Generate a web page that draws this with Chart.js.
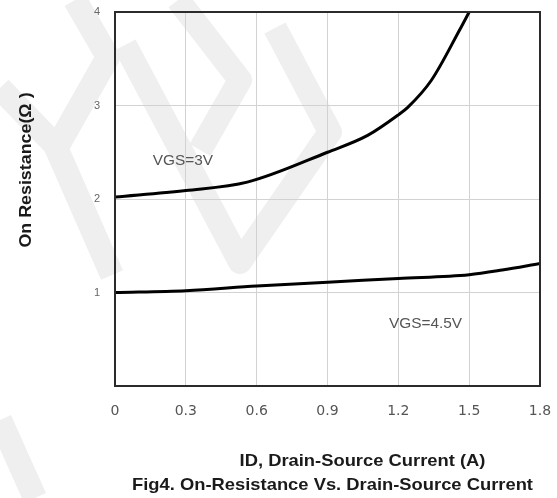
<!DOCTYPE html>
<html>
<head>
<meta charset="utf-8">
<script src="https://cdn.jsdelivr.net/npm/chart.js@4"></script>
<style>
  html, body { margin: 0; padding: 0; background: #fff; }
  #wrap { width: 557px; height: 498px; }
</style>
</head>
<body>
<div id="wrap"><canvas id="rdsChart"></canvas></div>
<script>
// drain current (A) vs on-resistance (ohm)
const idVgs3 = [0, 0.3, 0.56, 0.9, 1.07, 1.2, 1.24, 1.34, 1.46, 1.5];
const rdsVgs3 = [2.02, 2.09, 2.18, 2.5, 2.68, 2.9, 2.98, 3.27, 3.81, 4.0];
const idVgs45 = [0, 0.3, 0.6, 0.9, 1.2, 1.5, 1.64, 1.8];
const rdsVgs45 = [1.0, 1.02, 1.07, 1.11, 1.15, 1.19, 1.24, 1.31];
const xTicks = [0, 0.3, 0.6, 0.9, 1.2, 1.5, 1.8];
const yTicks = [0, 1, 2, 3, 4];

const seriesLabels = [
  { text: 'VGS=3V', x: 0.16, y: 2.4 },
  { text: 'VGS=4.5V', x: 1.16, y: 0.66 }
];

const toPts = (xs, ys) => xs.map((x, i) => ({ x: x, y: ys[i] }));
const FONT = '"Liberation Sans", Arial, sans-serif';

// faint logo behind the plot
const watermark = {
  id: 'watermark',
  beforeDraw(chart) {
    const ctx = chart.ctx;
    ctx.save();
    ctx.strokeStyle = '#efefef';
    ctx.lineWidth = 24;
    ctx.lineJoin = 'round';
    const bands = [
      [[0, 88], [55, 145], [112, 275]],
      [[75, 0], [108, 57], [57, 147]],
      [[125, 45], [240, 262], [330, 132], [275, 28]],
      [[178, 0], [240, 80], [200, 150]],
      [[0, 420], [35, 498]]
    ];
    bands.forEach(b => {
      ctx.beginPath();
      b.forEach((p, i) => i ? ctx.lineTo(p[0], p[1]) : ctx.moveTo(p[0], p[1]));
      ctx.stroke();
    });
    ctx.restore();
  }
};

// stretched text, the printed fonts run wide
function wideText(ctx, text, x, y, sx) {
  ctx.save();
  ctx.translate(x, y);
  ctx.scale(sx, 1);
  ctx.fillText(text, 0, 0);
  ctx.restore();
}

// border, curve labels, axis captions
const annotations = {
  id: 'annotations',
  afterDraw(chart) {
    const ctx = chart.ctx;
    const a = chart.chartArea;
    const xs = chart.scales.x, ys = chart.scales.y;
    ctx.save();
    ctx.strokeStyle = '#2b2b2b';
    ctx.lineWidth = 2;
    ctx.strokeRect(a.left, a.top, a.right - a.left, a.bottom - a.top);

    ctx.fillStyle = '#555';
    ctx.font = '14px ' + FONT;
    ctx.textBaseline = 'middle';
    ctx.textAlign = 'left';
    seriesLabels.forEach(l => wideText(ctx, l.text, xs.getPixelForValue(l.x), ys.getPixelForValue(l.y), 1.1));

    ctx.fillStyle = '#1a1a1a';
    ctx.font = 'bold 17px ' + FONT;
    ctx.textAlign = 'center';
    const mid = (a.left + a.right) / 2;
    wideText(ctx, 'ID, Drain-Source Current (A)', mid + 35, a.bottom + 75, 1.08);
    wideText(ctx, 'Fig4. On-Resistance Vs. Drain-Source Current', mid + 5, a.bottom + 99, 1.08);

    ctx.translate(26, (a.top + a.bottom) / 2 - 29);
    ctx.rotate(-Math.PI / 2);
    wideText(ctx, 'On Resistance(Ω )', 0, 0, 1.05);
    ctx.restore();
  }
};

const lineStyle = {
  borderColor: '#000',
  borderWidth: 3,
  pointRadius: 0,
  cubicInterpolationMode: 'monotone',
  fill: false
};

new Chart(document.getElementById('rdsChart'), {
  type: 'scatter',
  data: {
    datasets: [
      Object.assign({ label: 'VGS=3V', data: toPts(idVgs3, rdsVgs3), showLine: true }, lineStyle),
      Object.assign({ label: 'VGS=4.5V', data: toPts(idVgs45, rdsVgs45), showLine: true }, lineStyle)
    ]
  },
  options: {
    responsive: true,
    maintainAspectRatio: false,
    animation: false,
    layout: { padding: { top: 12, right: 17, left: 8, bottom: 0 } },
    plugins: { legend: { display: false }, tooltip: { enabled: false } },
    scales: {
      x: {
        type: 'linear', min: 0, max: 1.8,
        afterBuildTicks: s => { s.ticks = xTicks.map(v => ({ value: v })); },
        afterFit: s => { s.height = 112; s.paddingLeft = 0; s.paddingRight = 0; },
        grid: { color: '#d2d2d2', lineWidth: 1, drawTicks: false },
        border: { display: false },
        ticks: {
          padding: 17, color: '#555',
          font: { family: '"DejaVu Sans", sans-serif', size: 14 },
          callback: v => String(v)
        }
      },
      y: {
        min: 0, max: 4,
        afterBuildTicks: s => { s.ticks = yTicks.map(v => ({ value: v })); },
        afterFit: s => { s.width = 107; s.paddingTop = 0; s.paddingBottom = 0; },
        grid: { color: '#d2d2d2', lineWidth: 1, drawTicks: false },
        border: { display: false },
        ticks: {
          padding: 15, color: '#666',
          font: { family: FONT, size: 11 },
          callback: v => v === 0 ? '' : String(v)
        }
      }
    }
  },
  plugins: [watermark, annotations]
});
</script>
</body>
</html>
